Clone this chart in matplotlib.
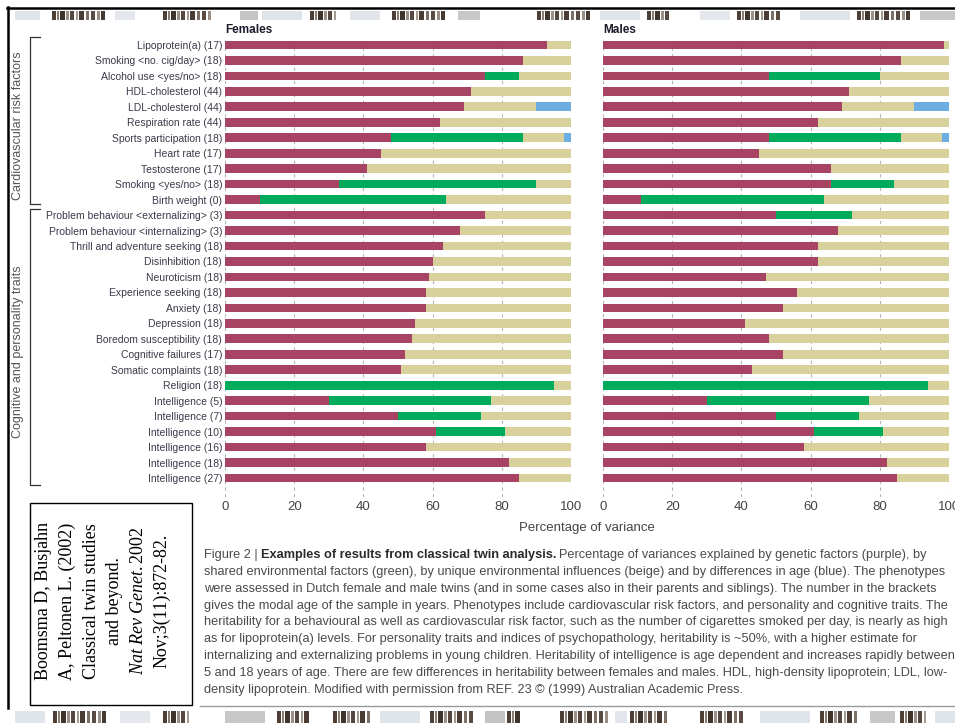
import matplotlib
matplotlib.use("Agg")
import matplotlib.pyplot as plt
from matplotlib.patches import Rectangle
from matplotlib.lines import Line2D
import numpy as np

# phenotypes, top to bottom
phenotypes = [
    "Lipoprotein(a) (17)", "Smoking <no. cig/day> (18)", "Alcohol use <yes/no> (18)",
    "HDL-cholesterol (44)", "LDL-cholesterol (44)", "Respiration rate (44)",
    "Sports participation (18)", "Heart rate (17)", "Testosterone (17)",
    "Smoking <yes/no> (18)", "Birth weight (0)",
    "Problem behaviour <externalizing> (3)", "Problem behaviour <internalizing> (3)",
    "Thrill and adventure seeking (18)", "Disinhibition (18)", "Neuroticism (18)",
    "Experience seeking (18)", "Anxiety (18)", "Depression (18)",
    "Boredom susceptibility (18)", "Cognitive failures (17)", "Somatic complaints (18)",
    "Religion (18)", "Intelligence (5)", "Intelligence (7)", "Intelligence (10)",
    "Intelligence (16)", "Intelligence (18)", "Intelligence (27)",
]

# percentage of variance: genetic, shared env., unique env., age
genetic_f = [93, 86, 75, 71, 69, 62, 48, 45, 41, 33, 10, 75, 68, 63, 60, 59, 58, 58,
             55, 54, 52, 51, 0, 30, 50, 61, 58, 82, 85]
shared_f = [0, 0, 10, 0, 0, 0, 38, 0, 0, 57, 54, 0, 0, 0, 0, 0, 0, 0,
            0, 0, 0, 0, 95, 47, 24, 20, 0, 0, 0]
unique_f = [7, 14, 15, 29, 21, 38, 12, 55, 59, 10, 36, 25, 32, 37, 40, 41, 42, 42,
            45, 46, 48, 49, 5, 23, 26, 19, 42, 18, 15]
age_f = [0, 0, 0, 0, 10, 0, 2, 0, 0, 0, 0, 0, 0, 0, 0, 0, 0, 0,
         0, 0, 0, 0, 0, 0, 0, 0, 0, 0, 0]

genetic_m = [98.5, 86, 48, 71, 69, 62, 48, 45, 66, 66, 11, 50, 68, 62, 62, 47, 56, 52,
             41, 48, 52, 43, 0, 30, 50, 61, 58, 82, 85]
shared_m = [0, 0, 32, 0, 0, 0, 38, 0, 0, 18, 53, 22, 0, 0, 0, 0, 0, 0,
            0, 0, 0, 0, 94, 47, 24, 20, 0, 0, 0]
unique_m = [1.5, 14, 20, 29, 21, 38, 12, 55, 34, 16, 36, 28, 32, 38, 38, 53, 44, 48,
            59, 52, 48, 57, 6, 23, 26, 19, 42, 18, 15]
age_m = [0, 0, 0, 0, 10, 0, 2, 0, 0, 0, 0, 0, 0, 0, 0, 0, 0, 0,
         0, 0, 0, 0, 0, 0, 0, 0, 0, 0, 0]

xticks = [0, 20, 40, 60, 80, 100]

C_GEN = "#a84463"
C_SHARED = "#00ac5c"
C_UNIQUE = "#d9d19b"
C_AGE = "#6caee2"

W, H = 955, 723
SANS = "Liberation Sans"


def fx(px):
    return px / W


def fy(py):
    return 1 - py / H


fig = plt.figure(figsize=(W / 100, H / 100), dpi=100)
fig.patch.set_facecolor("white")
renderer = fig.canvas.get_renderer()


def panel(left_px, title, gen, sh, un, ag, show_labels):
    ax = fig.add_axes([fx(left_px), fy(497), 346 / W, (497 - 38) / H])
    y = np.arange(len(phenotypes))
    left = np.zeros(len(y))
    for vals, col in [(gen, C_GEN), (sh, C_SHARED), (un, C_UNIQUE), (ag, C_AGE)]:
        vals = np.array(vals, dtype=float)
        ax.barh(y, vals, left=left, height=0.56, color=col, zorder=2)
        left += vals
    ax.set_xlim(0, 100)
    ax.set_ylim(29.23, -0.45)
    ax.set_xticks(xticks)
    ax.set_xticklabels([str(t) for t in xticks], family=SANS, fontsize=9.5,
                       color="#444444")
    ax.tick_params(axis="x", length=0, pad=3)
    ax.grid(axis="x", color="#b5b5b5", linestyle=(0, (3, 3)), linewidth=0.8, zorder=0)
    for s in ax.spines.values():
        s.set_visible(False)
    if show_labels:
        ax.set_yticks(y)
        ax.set_yticklabels(phenotypes, family=SANS, fontsize=7.5, color="#3a3a4a")
        ax.tick_params(axis="y", length=0, pad=2)
    else:
        ax.set_yticks([])
    fig.text(fx(left_px), fy(30), title, family=SANS, fontweight="bold",
             fontsize=8.5, color="#1c1c2c", ha="left", va="center")
    return ax


panel(225, "Females", genetic_f, shared_f, unique_f, age_f, True)
panel(603, "Males", genetic_m, shared_m, unique_m, age_m, False)

fig.text(fx(587), fy(528), "Percentage of variance", family=SANS, fontsize=9.5,
         color="#444444", ha="center", va="center")

# group brackets on the left
for top, bot, label in [(37, 204, "Cardiovascular risk factors"),
                        (209, 485, "Cognitive and personality traits")]:
    xs = [fx(40), fx(30), fx(30), fx(40)]
    ys = [fy(top), fy(top), fy(bot), fy(bot)]
    fig.add_artist(Line2D(xs, ys, color="#333333", lw=0.9))
    fig.text(fx(18), fy((top + bot) / 2 + 5), label, rotation=90,
             family=SANS, fontsize=9, color="#555555", ha="center", va="center")

# caption
cap_y = [555, 572, 589, 606, 622, 639, 656, 673, 690]
cap_lines = [
    None,
    "shared environmental factors (green), by unique environmental influences (beige) and by differences in age (blue). The phenotypes",
    "were assessed in Dutch female and male twins (and in some cases also in their parents and siblings). The number in the brackets",
    "gives the modal age of the sample in years. Phenotypes include cardiovascular risk factors, and personality and cognitive traits. The",
    "heritability for a behavioural as well as cardiovascular risk factor, such as the number of cigarettes smoked per day, is nearly as high",
    "as for lipoprotein(a) levels. For personality traits and indices of psychopathology, heritability is ~50%, with a higher estimate for",
    "internalizing and externalizing problems in young children. Heritability of intelligence is age dependent and increases rapidly between",
    "5 and 18 years of age. There are few differences in heritability between females and males. HDL, high-density lipoprotein; LDL, low-",
    "density lipoprotein. Modified with permission from REF. 23 \u00a9 (1999) Australian Academic Press.",
]

# size the caption so the "shared environmental..." line spans about 740 px
probe = fig.text(0, 0, cap_lines[1], family=SANS, fontsize=10)
cap_fs = 10 * 740 / probe.get_window_extent(renderer).width
probe.remove()

cap_kw = dict(family=SANS, fontsize=cap_fs, color="#4a4a4a", ha="left", va="center")
for yy, line in zip(cap_y, cap_lines):
    if line:
        fig.text(fx(204), fy(yy), line, **cap_kw)

# first caption line has a bold run in the middle
x0 = 204
parts = [("Figure 2 |", "normal", "#4a4a4a"),
         ("Examples of results from classical twin analysis.", "bold", "#2a2a2a"),
         ("Percentage of variances explained by genetic factors (purple), by", "normal", "#4a4a4a")]
for txt, wt, col in parts:
    kw = dict(cap_kw)
    kw["color"] = col
    t = fig.text(fx(x0), fy(cap_y[0]), txt, fontweight=wt, **kw)
    x0 = t.get_window_extent(renderer).x1 + 3

fig.add_artist(Line2D([fx(200), fx(955)], [fy(706), fy(706)], color="#9a9a9a", lw=1))

# reference box
fig.add_artist(Rectangle((fx(30), fy(705)), 162 / W, 202 / H, fill=False,
                         edgecolor="black", lw=1, transform=fig.transFigure))
plt.rcParams["mathtext.fontset"] = "custom"
plt.rcParams["mathtext.rm"] = "Liberation Serif"
plt.rcParams["mathtext.it"] = "Liberation Serif:italic"
ref_lines = ["Boomsma D, Busjahn", "A, Peltonen L. (2002)", "Classical twin studies",
             "and beyond.", r"$\mathit{Nat\ Rev\ Genet.}$2002", "Nov;3(11):872-82."]
for i, line in enumerate(ref_lines):
    fig.text(fx(44 + i * 23.6), fy(601), line, rotation=90, family="Liberation Serif",
             fontsize=13, color="black", ha="center", va="center")

# film-strip bands along top and bottom edges
motif = [(0, 4, "#4d3f36"), (5, 2, "#8a7d73"), (8, 5, "#3f342c"), (14, 3, "#9b9088"),
         (18, 4, "#564840"), (24, 2, "#a59a90"), (27, 5, "#4a3c33"), (34, 3, "#7d7067"),
         (39, 4, "#5b4c43"), (45, 3, "#9a8f86"), (49, 4, "#473a31")]
light_top = [(15, 25, "#dfe5ea"), (115, 20, "#e4e8ec"), (240, 18, "#c4c4c4"),
             (262, 40, "#dde4ea"), (350, 30, "#e2e6ea"), (458, 22, "#c8c8c8"),
             (600, 40, "#dfe5ea"), (700, 30, "#e4e8ec"), (800, 50, "#dde4ea"),
             (920, 35, "#c8c8c8")]
dark_top = [(52, 56), (163, 52), (310, 30), (392, 53), (537, 53), (647, 23),
            (737, 46), (857, 53)]
light_bot = [(15, 30, "#dfe5ea"), (120, 30, "#e4e8ec"), (225, 40, "#c8c8c8"),
             (380, 40, "#dde4ea"), (485, 20, "#c4c4c4"), (615, 12, "#e2e6ea"),
             (760, 50, "#dfe5ea"), (870, 25, "#c8c8c8"), (935, 20, "#dde4ea")]
dark_bot = [(53, 57), (163, 27), (277, 33), (333, 40), (430, 47), (507, 13),
            (560, 50), (630, 37), (700, 45), (820, 40), (900, 30)]


def strip(top_px, bot_px, lights, darks):
    h = (bot_px - top_px) / H
    for x, w, c in lights:
        fig.add_artist(Rectangle((fx(x), fy(bot_px)), w / W, h, color=c, lw=0,
                                 transform=fig.transFigure))
    for x, w in darks:
        for dx, dw, c in motif:
            if dx + dw > w:
                break
            fig.add_artist(Rectangle((fx(x + dx), fy(bot_px)), dw / W, h, color=c, lw=0,
                                     transform=fig.transFigure))


strip(11, 20, light_top, dark_top)
strip(711, 723, light_bot, dark_bot)

# dark frame on top and left
fig.add_artist(Line2D([fx(7), fx(955)], [fy(7.5), fy(7.5)], color="black", lw=1.8))
fig.add_artist(Line2D([fx(7.5), fx(7.5)], [fy(7), fy(708)], color="black", lw=1.8))

fig.savefig("out.png", dpi=100)
